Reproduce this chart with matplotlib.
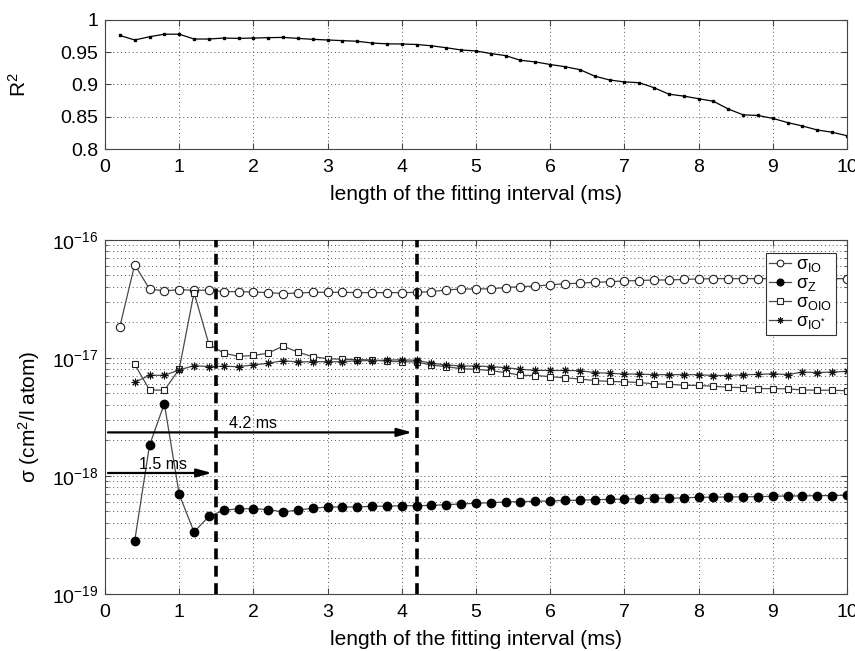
import numpy as np
import matplotlib
matplotlib.use("Agg")
import matplotlib.pyplot as plt
from matplotlib.ticker import FuncFormatter, LogLocator, NullFormatter

plt.rcParams['font.family'] = ['Liberation Sans', 'DejaVu Sans']
plt.rcParams['mathtext.fontset'] = 'custom'
plt.rcParams['mathtext.rm'] = 'Liberation Sans'
plt.rcParams['mathtext.it'] = 'Liberation Sans:italic'
plt.rcParams['mathtext.sf'] = 'Liberation Sans'

# ---- data ----
t_r2 = [0.2, 0.4, 0.6, 0.8, 1.0, 1.2, 1.4, 1.6, 1.8, 2.0, 2.2, 2.4, 2.6, 2.8, 3.0,
        3.2, 3.4, 3.6, 3.8, 4.0, 4.2, 4.4, 4.6, 4.8, 5.0, 5.2, 5.4, 5.6, 5.8, 6.0,
        6.2, 6.4, 6.6, 6.8, 7.0, 7.2, 7.4, 7.6, 7.8, 8.0, 8.2, 8.4, 8.6, 8.8, 9.0,
        9.2, 9.4, 9.6, 9.8, 10.0]
r2 = [0.976, 0.969, 0.974, 0.978, 0.978, 0.9705, 0.9705, 0.972, 0.9715, 0.972,
      0.9726, 0.973, 0.9715, 0.970, 0.969, 0.968, 0.967, 0.9643, 0.963, 0.9628,
      0.962, 0.960, 0.957, 0.9535, 0.952, 0.948, 0.9447, 0.9375, 0.935, 0.931,
      0.9276, 0.923, 0.913, 0.907, 0.904, 0.9028, 0.895, 0.885, 0.882, 0.878,
      0.874, 0.862, 0.853, 0.852, 0.8475, 0.841, 0.8357, 0.8295, 0.826, 0.8206]

t_io = t_r2
sigma_io = [1.84e-17, 6.18e-17, 3.84e-17, 3.70e-17, 3.79e-17, 3.75e-17, 3.75e-17,
            3.65e-17, 3.65e-17, 3.62e-17, 3.58e-17, 3.51e-17, 3.55e-17, 3.60e-17,
            3.60e-17, 3.60e-17, 3.58e-17, 3.58e-17, 3.58e-17, 3.58e-17, 3.60e-17,
            3.65e-17, 3.77e-17, 3.84e-17, 3.84e-17, 3.86e-17, 3.95e-17, 4.02e-17,
            4.07e-17, 4.16e-17, 4.26e-17, 4.30e-17, 4.38e-17, 4.42e-17, 4.50e-17,
            4.53e-17, 4.58e-17, 4.58e-17, 4.63e-17, 4.67e-17, 4.70e-17, 4.70e-17,
            4.70e-17, 4.70e-17, 4.70e-17, 4.70e-17, 4.70e-17, 4.70e-17, 4.70e-17,
            4.70e-17]

t_rest = t_r2[1:]
sigma_z = [2.81e-19, 1.82e-18, 4.10e-18, 7.00e-19, 3.35e-19, 4.55e-19, 5.11e-19,
           5.28e-19, 5.28e-19, 5.19e-19, 4.95e-19, 5.15e-19, 5.32e-19, 5.46e-19,
           5.46e-19, 5.46e-19, 5.54e-19, 5.54e-19, 5.60e-19, 5.60e-19, 5.63e-19,
           5.71e-19, 5.79e-19, 5.87e-19, 5.94e-19, 6.02e-19, 6.06e-19, 6.10e-19,
           6.14e-19, 6.22e-19, 6.22e-19, 6.30e-19, 6.33e-19, 6.38e-19, 6.42e-19,
           6.47e-19, 6.47e-19, 6.52e-19, 6.60e-19, 6.60e-19, 6.65e-19, 6.65e-19,
           6.68e-19, 6.72e-19, 6.77e-19, 6.77e-19, 6.82e-19, 6.82e-19, 6.86e-19]
sigma_oio = [8.83e-18, 5.36e-18, 5.33e-18, 8.02e-18, 3.58e-17, 1.31e-17, 1.10e-17,
             1.03e-17, 1.05e-17, 1.10e-17, 1.26e-17, 1.12e-17, 1.025e-17, 9.86e-18,
             9.75e-18, 9.70e-18, 9.62e-18, 9.37e-18, 9.30e-18, 9.25e-18, 8.71e-18,
             8.44e-18, 8.11e-18, 8.02e-18, 7.81e-18, 7.52e-18, 7.13e-18, 7.10e-18,
             6.95e-18, 6.78e-18, 6.64e-18, 6.43e-18, 6.33e-18, 6.27e-18, 6.20e-18,
             6.03e-18, 6.00e-18, 5.87e-18, 5.85e-18, 5.76e-18, 5.65e-18, 5.60e-18,
             5.50e-18, 5.50e-18, 5.47e-18, 5.36e-18, 5.33e-18, 5.33e-18, 5.28e-18]
sigma_io_star = [6.22e-18, 7.13e-18, 7.13e-18, 7.91e-18, 8.61e-18, 8.44e-18, 8.50e-18,
                 8.44e-18, 8.73e-18, 9.02e-18, 9.48e-18, 9.25e-18, 9.30e-18, 9.30e-18,
                 9.30e-18, 9.48e-18, 9.48e-18, 9.60e-18, 9.65e-18, 9.55e-18, 9.02e-18,
                 8.73e-18, 8.55e-18, 8.55e-18, 8.44e-18, 8.28e-18, 8.02e-18, 7.86e-18,
                 7.83e-18, 7.83e-18, 7.80e-18, 7.52e-18, 7.42e-18, 7.31e-18, 7.31e-18,
                 7.22e-18, 7.22e-18, 7.22e-18, 7.22e-18, 7.10e-18, 7.10e-18, 7.22e-18,
                 7.25e-18, 7.35e-18, 7.22e-18, 7.60e-18, 7.52e-18, 7.60e-18, 7.70e-18]

labels = [r'$\mathrm{\sigma_{IO}}$', r'$\mathrm{\sigma_{Z}}$',
          r'$\mathrm{\sigma_{OIO}}$', r'$\mathrm{\sigma_{IO^{*}}}$']
x_ticks = list(range(0, 11))
r2_ticks = [0.8, 0.85, 0.9, 0.95, 1.0]
cutoffs = [1.5, 4.2]
cutoff_text = ['1.5 ms', '4.2 ms']
xlabel = 'length of the fitting interval (ms)'

# ---- figure ----
fig = plt.figure(figsize=(8.55, 6.51), dpi=100)
ax1 = fig.add_axes([0.1228, 0.7711, 0.8678, 0.1982])
ax2 = fig.add_axes([0.1228, 0.0876, 0.8678, 0.5438])

grid_kw = dict(color='#555555', linestyle=(0, (1, 3)), linewidth=0.7)
spine_c = '#444444'
tick_fs = 14
label_fs = 15

for ax in (ax1, ax2):
    for s in ax.spines.values():
        s.set_color(spine_c)
        s.set_linewidth(0.8)
    ax.tick_params(which='both', direction='in', top=True, right=True,
                   labelsize=tick_fs, colors=spine_c, labelcolor='black')
    ax.tick_params(which='major', length=4, pad=5)
    ax.tick_params(axis='x', which='major', pad=7)
    ax.tick_params(which='minor', length=2.5)
    ax.set_xlim(0, 10)
    ax.set_xticks(x_ticks)

# top panel: R^2
ax1.plot(t_r2, r2, color='black', lw=0.9, marker='s', ms=1.8,
         markerfacecolor='black', markeredgecolor='black')
ax1.set_ylim(0.8, 1.0)
ax1.set_yticks(r2_ticks)
ax1.yaxis.set_major_formatter(FuncFormatter(lambda v, p: '%g' % v))
ax1.grid(True, which='major', **grid_kw)
ax1.set_ylabel(r'R$^2$', fontsize=label_fs, labelpad=22)
ax1.set_xlabel(xlabel, fontsize=label_fs, labelpad=7)

# bottom panel: cross sections
line_c = '#4a4a4a'
ax2.set_yscale('log')
ax2.set_ylim(1e-19, 1e-16)
ax2.yaxis.set_major_locator(LogLocator(base=10, numticks=10))
ax2.yaxis.set_minor_locator(LogLocator(base=10, subs=np.arange(2, 10), numticks=10))
ax2.yaxis.set_minor_formatter(NullFormatter())
ax2.grid(True, which='major', axis='both', **grid_kw)
ax2.grid(True, which='minor', axis='y', **grid_kw)

ax2.plot(t_io, sigma_io, color=line_c, lw=0.9, marker='o', ms=6,
         markerfacecolor='white', markeredgecolor='#222222', markeredgewidth=0.8,
         label=labels[0])
ax2.plot(t_rest, sigma_z, color=line_c, lw=0.9, marker='o', ms=6,
         markerfacecolor='black', markeredgecolor='black', label=labels[1])
ax2.plot(t_rest, sigma_oio, color=line_c, lw=0.9, marker='s', ms=5,
         markerfacecolor='white', markeredgecolor='#222222', markeredgewidth=0.8,
         label=labels[2])
ax2.plot(t_rest, sigma_io_star, color=line_c, lw=0.9, marker=(8, 2, 0), ms=5.5,
         markerfacecolor='#111111', markeredgecolor='#111111', markeredgewidth=0.75,
         label=labels[3])

for xc in cutoffs:
    ax2.axvline(xc, color='black', lw=2.6, linestyle=(0, (3, 1.8)), zorder=4)

arrow_y = [1.06e-18, 2.34e-18]
text_y = [1.25e-18, 2.8e-18]
text_x = [0.78, 2.0]
for xc, ay, tx, ty, txt in zip(cutoffs, arrow_y, text_x, text_y, cutoff_text):
    ax2.annotate('', xy=(xc - 0.06, ay), xytext=(0.04, ay),
                 arrowprops=dict(arrowstyle='-|>,head_length=0.9,head_width=0.25',
                                 color='black', lw=1.6, shrinkA=0, shrinkB=0),
                 zorder=5)
    ax2.text(tx, ty, txt, ha='center', va='center', fontsize=11.5, zorder=6)

ax2.set_ylabel('σ (cm$^2$/l atom)', fontsize=label_fs, labelpad=7)
ax2.set_xlabel(xlabel, fontsize=label_fs, labelpad=7)

leg = ax2.legend(loc='upper right', bbox_to_anchor=(0.99, 0.974), fontsize=13,
                 frameon=True, fancybox=False, framealpha=1.0, edgecolor='#333333',
                 handlelength=1.2, handletextpad=0.3, borderpad=0.2,
                 labelspacing=0.05, borderaxespad=0.2, markerscale=0.8)
leg.get_frame().set_linewidth(0.8)

fig.savefig('out.png', dpi=100)
